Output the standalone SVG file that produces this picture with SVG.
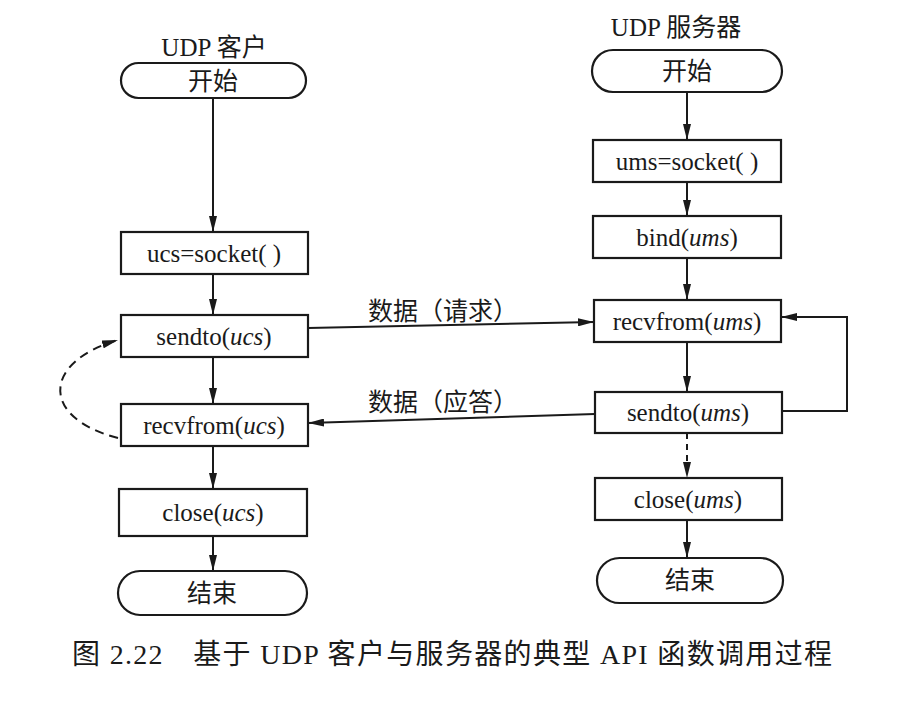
<svg xmlns="http://www.w3.org/2000/svg" width="922" height="720" viewBox="0 0 922 720">
<style>
.n{fill:#fff;stroke:#1a1a1a;stroke-width:2.2}
.t{font-family:"Liberation Serif","Noto Sans CJK SC",serif;font-size:25px;fill:#1a1a1a;text-anchor:middle;dominant-baseline:central}
.c{fill:none;stroke:#1a1a1a;stroke-width:2}
.i{font-style:italic}
</style>
<defs>
<marker id="a" viewBox="0 0 16 8" refX="16" refY="4" markerWidth="16" markerHeight="8" markerUnits="userSpaceOnUse" orient="auto">
<path d="M0,0 L16,4 L0,8 Z" fill="#1a1a1a"/>
</marker>
</defs>
<rect width="922" height="720" fill="#fff"/>
<text class="t" x="214" y="47" font-size="26">UDP 客户</text>
<text class="t" x="676" y="27" font-size="26">UDP 服务器</text>
<g id="connectors">
<line class="c" x1="213" y1="98" x2="213" y2="232" marker-end="url(#a)"/>
<line class="c" x1="213" y1="274" x2="213" y2="315" marker-end="url(#a)"/>
<line class="c" x1="213" y1="357" x2="213" y2="404" marker-end="url(#a)"/>
<line class="c" x1="213" y1="446" x2="213" y2="489" marker-end="url(#a)"/>
<line class="c" x1="213" y1="536" x2="213" y2="571" marker-end="url(#a)"/>
<line class="c" x1="687" y1="92" x2="687" y2="140" marker-end="url(#a)"/>
<line class="c" x1="687" y1="182" x2="687" y2="216" marker-end="url(#a)"/>
<line class="c" x1="687" y1="258" x2="687" y2="300" marker-end="url(#a)"/>
<line class="c" x1="687" y1="342" x2="687" y2="392" marker-end="url(#a)"/>
<line class="c" x1="687" y1="433" x2="687" y2="478" stroke-dasharray="6,5" marker-end="url(#a)"/>
<line class="c" x1="687" y1="520" x2="687" y2="558" marker-end="url(#a)"/>
<line class="c" x1="308" y1="328" x2="594" y2="322" marker-end="url(#a)"/>
<line class="c" x1="595" y1="414" x2="308" y2="423" marker-end="url(#a)"/>
<polyline class="c" points="782,411 847,411 847,317 781,317" marker-end="url(#a)"/>
<path class="c" d="M118,438 C40,418 42,362 118,340" stroke-dasharray="9,6" marker-end="url(#a)"/>
<text class="t" x="443" y="311" font-size="23">数据（请求）</text>
<text class="t" x="443" y="402" font-size="23">数据（应答）</text>
</g>
<g id="c_start"><rect class="n" x="121" y="63" width="185" height="35" rx="17.5"/><text class="t" x="213" y="81">开始</text></g>
<g id="c_socket"><rect class="n" x="121" y="232" width="187" height="42"/><text class="t" x="214" y="253">ucs=socket( )</text></g>
<g id="c_sendto"><rect class="n" x="121" y="315" width="187" height="42"/><text class="t" x="214" y="336">sendto(<tspan class="i">ucs</tspan>)</text></g>
<g id="c_recvfrom"><rect class="n" x="121" y="404" width="187" height="42"/><text class="t" x="214" y="425">recvfrom(<tspan class="i">ucs</tspan>)</text></g>
<g id="c_close"><rect class="n" x="119" y="489" width="188" height="47"/><text class="t" x="213" y="512">close(<tspan class="i">ucs</tspan>)</text></g>
<g id="c_end"><rect class="n" x="118" y="571" width="189" height="44" rx="22"/><text class="t" x="212" y="593">结束</text></g>
<g id="s_start"><rect class="n" x="592" y="50" width="190" height="42" rx="21"/><text class="t" x="687" y="71">开始</text></g>
<g id="s_socket"><rect class="n" x="593" y="140" width="188" height="42"/><text class="t" x="687" y="161">ums=socket( )</text></g>
<g id="s_bind"><rect class="n" x="593" y="216" width="188" height="42"/><text class="t" x="687" y="237">bind(<tspan class="i">ums</tspan>)</text></g>
<g id="s_recvfrom"><rect class="n" x="594" y="300" width="187" height="42"/><text class="t" x="687" y="321">recvfrom(<tspan class="i">ums</tspan>)</text></g>
<g id="s_sendto"><rect class="n" x="595" y="392" width="187" height="41"/><text class="t" x="688" y="412">sendto(<tspan class="i">ums</tspan>)</text></g>
<g id="s_close"><rect class="n" x="595" y="478" width="187" height="42"/><text class="t" x="688" y="499">close(<tspan class="i">ums</tspan>)</text></g>
<g id="s_end"><rect class="n" x="597" y="558" width="186" height="45" rx="22.5"/><text class="t" x="690" y="580">结束</text></g>
<text x="72" y="664" style="font-family:'Liberation Serif','Noto Sans CJK SC',serif;font-size:28px;fill:#1a1a1a" textLength="760" lengthAdjust="spacing">图 2.22　基于 UDP 客户与服务器的典型 API 函数调用过程</text>
</svg>
